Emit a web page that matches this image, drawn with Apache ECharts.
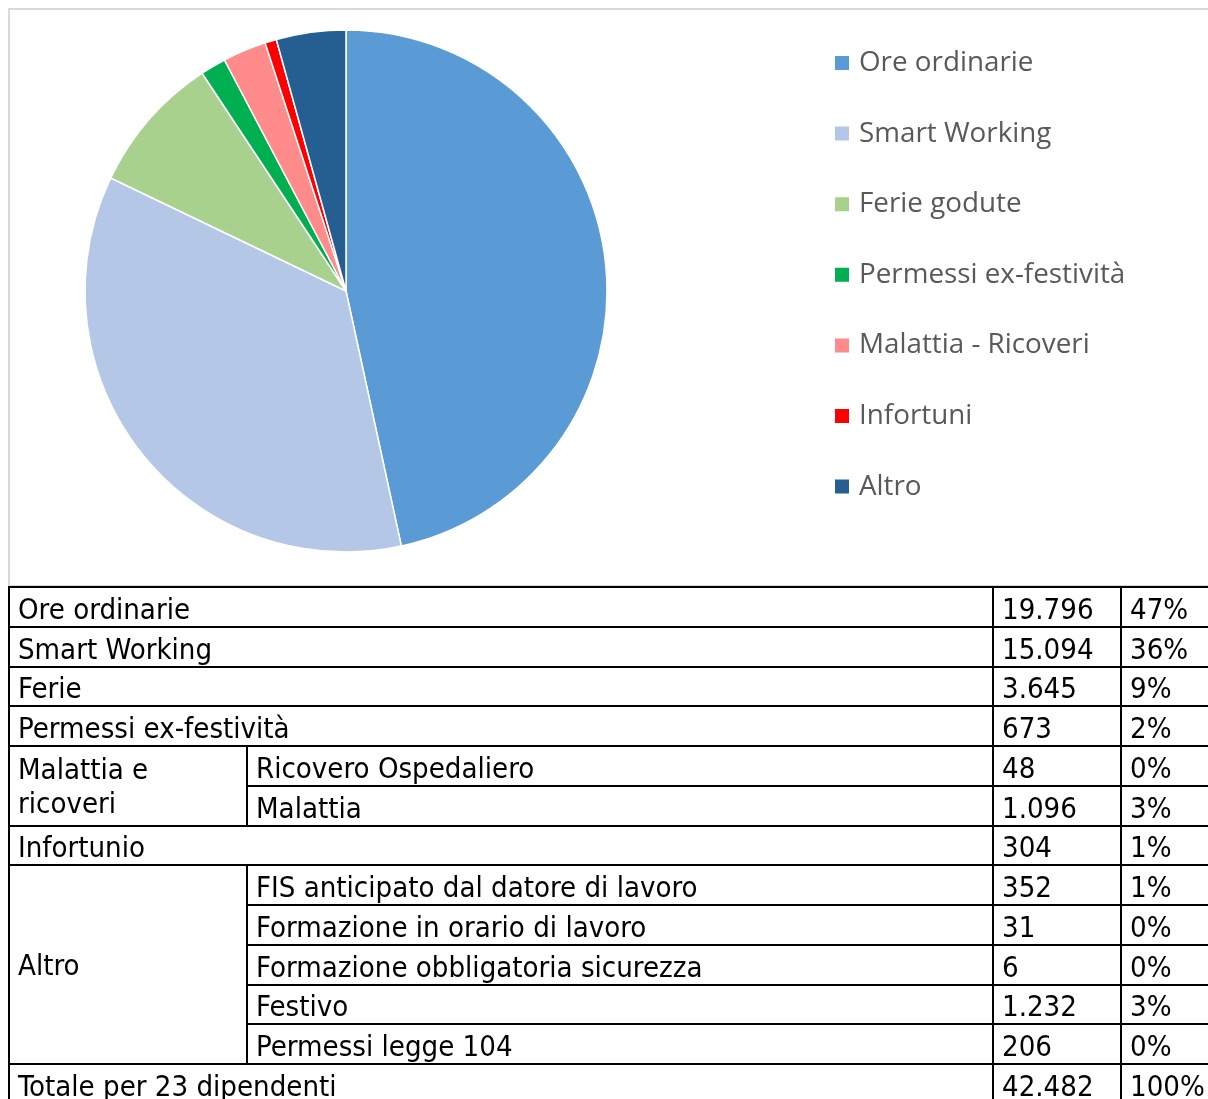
<!DOCTYPE html>
<html>
<head>
<meta charset="utf-8">
<script src="https://cdn.jsdelivr.net/npm/echarts@6/dist/echarts.min.js"></script>
<style>
  html, body { margin: 0; padding: 0; background: #fff; width: 1208px; height: 1099px; overflow: hidden; }
  #chart { position: absolute; left: 0; top: 0; width: 1208px; height: 588px; }
  #tbl { position: absolute; left: 8px; top: 586px; width: 1206px; border-collapse: collapse; table-layout: fixed;
         font-family: 'DejaVu Sans Condensed', 'DejaVu Sans', sans-serif; font-stretch: condensed;
         font-size: 29.1px; color: #000; }
  #tbl td { border: 2px solid #000; padding: 0 0 0 8px; height: 37.75px; line-height: 34px;
            vertical-align: bottom; white-space: nowrap; overflow: hidden; }
  #tbl td.mid { vertical-align: middle; white-space: normal; }
</style>
</head>
<body>
<div id="chart"></div>
<table id="tbl"></table>
<script>
// ---- pie data ----
const pieNames = ['Ore ordinarie', 'Smart Working', 'Ferie godute', 'Permessi ex-festività', 'Malattia - Ricoveri', 'Infortuni', 'Altro'];
const pieValues = [19796, 15094, 3645, 673, 1144, 304, 1827];

// ---- table data ----
const rowGroup = ['Ore ordinarie', 'Smart Working', 'Ferie', 'Permessi ex-festività', 'Malattia e ricoveri', 'Malattia e ricoveri', 'Infortunio', 'Altro', 'Altro', 'Altro', 'Altro', 'Altro', 'Totale per 23 dipendenti'];
const rowSub = [null, null, null, null, 'Ricovero Ospedaliero', 'Malattia', null, 'FIS anticipato dal datore di lavoro', 'Formazione in orario di lavoro', 'Formazione obbligatoria sicurezza', 'Festivo', 'Permessi legge 104', null];
const rowHours = [19796, 15094, 3645, 673, 48, 1096, 304, 352, 31, 6, 1232, 206, 42482];
const rowPct = ['47%', '36%', '9%', '2%', '0%', '3%', '1%', '1%', '0%', '0%', '3%', '0%', '100%'];

// styles
const pieColors = ['#5B9BD5', '#B4C7E7', '#A9D18E', '#00B050', '#FF8B8B', '#FF0000', '#255E91'];

const chart = echarts.init(document.getElementById('chart'), null, { renderer: 'canvas' });
chart.setOption({
  animation: false,
  graphic: [{
    type: 'rect', shape: { x: 9, y: 9, width: 1240, height: 577 },
    style: { fill: 'none', stroke: '#D9D9D9', lineWidth: 2 }, silent: true
  }],
  legend: {
    orient: 'vertical', left: 833, top: 48, padding: 0,
    icon: 'rect', itemWidth: 16, itemHeight: 16, itemGap: 40.6,
    selectedMode: false,
    textStyle: { fontFamily: 'Open Sans', fontSize: 27.8, color: '#595959', lineHeight: 30, padding: [0, 0, 0, 4] },
    data: pieNames
  },
  series: [{
    type: 'pie', center: [346, 291], radius: 261, startAngle: 90, clockwise: true,
    label: { show: false }, labelLine: { show: false },
    itemStyle: { borderColor: '#fff', borderWidth: 1.5 },
    emphasis: { disabled: true },
    data: pieNames.map((n, i) => ({ name: n, value: pieValues[i], itemStyle: { color: pieColors[i] } }))
  }]
});

// build table
const fmt = v => String(v).replace(/\B(?=(\d{3})+(?!\d))/g, '.');
const tbl = document.getElementById('tbl');
const cg = document.createElement('colgroup');
[238, 746, 128, 94].forEach(w => { const c = document.createElement('col'); c.style.width = w + 'px'; cg.appendChild(c); });
tbl.appendChild(cg);
for (let i = 0; i < rowGroup.length; i++) {
  const tr = document.createElement('tr');
  if (rowSub[i] === null) {
    const td = document.createElement('td'); td.colSpan = 2; td.textContent = rowGroup[i]; tr.appendChild(td);
  } else {
    if (i === 0 || rowGroup[i - 1] !== rowGroup[i]) {
      let span = 1; while (i + span < rowGroup.length && rowGroup[i + span] === rowGroup[i]) span++;
      const td = document.createElement('td'); td.rowSpan = span; td.className = 'mid'; td.textContent = rowGroup[i]; tr.appendChild(td);
    }
    const td2 = document.createElement('td'); td2.textContent = rowSub[i]; tr.appendChild(td2);
  }
  const t3 = document.createElement('td'); t3.textContent = fmt(rowHours[i]); tr.appendChild(t3);
  const t4 = document.createElement('td'); t4.textContent = rowPct[i]; tr.appendChild(t4);
  tbl.appendChild(tr);
}
</script>
</body>
</html>
